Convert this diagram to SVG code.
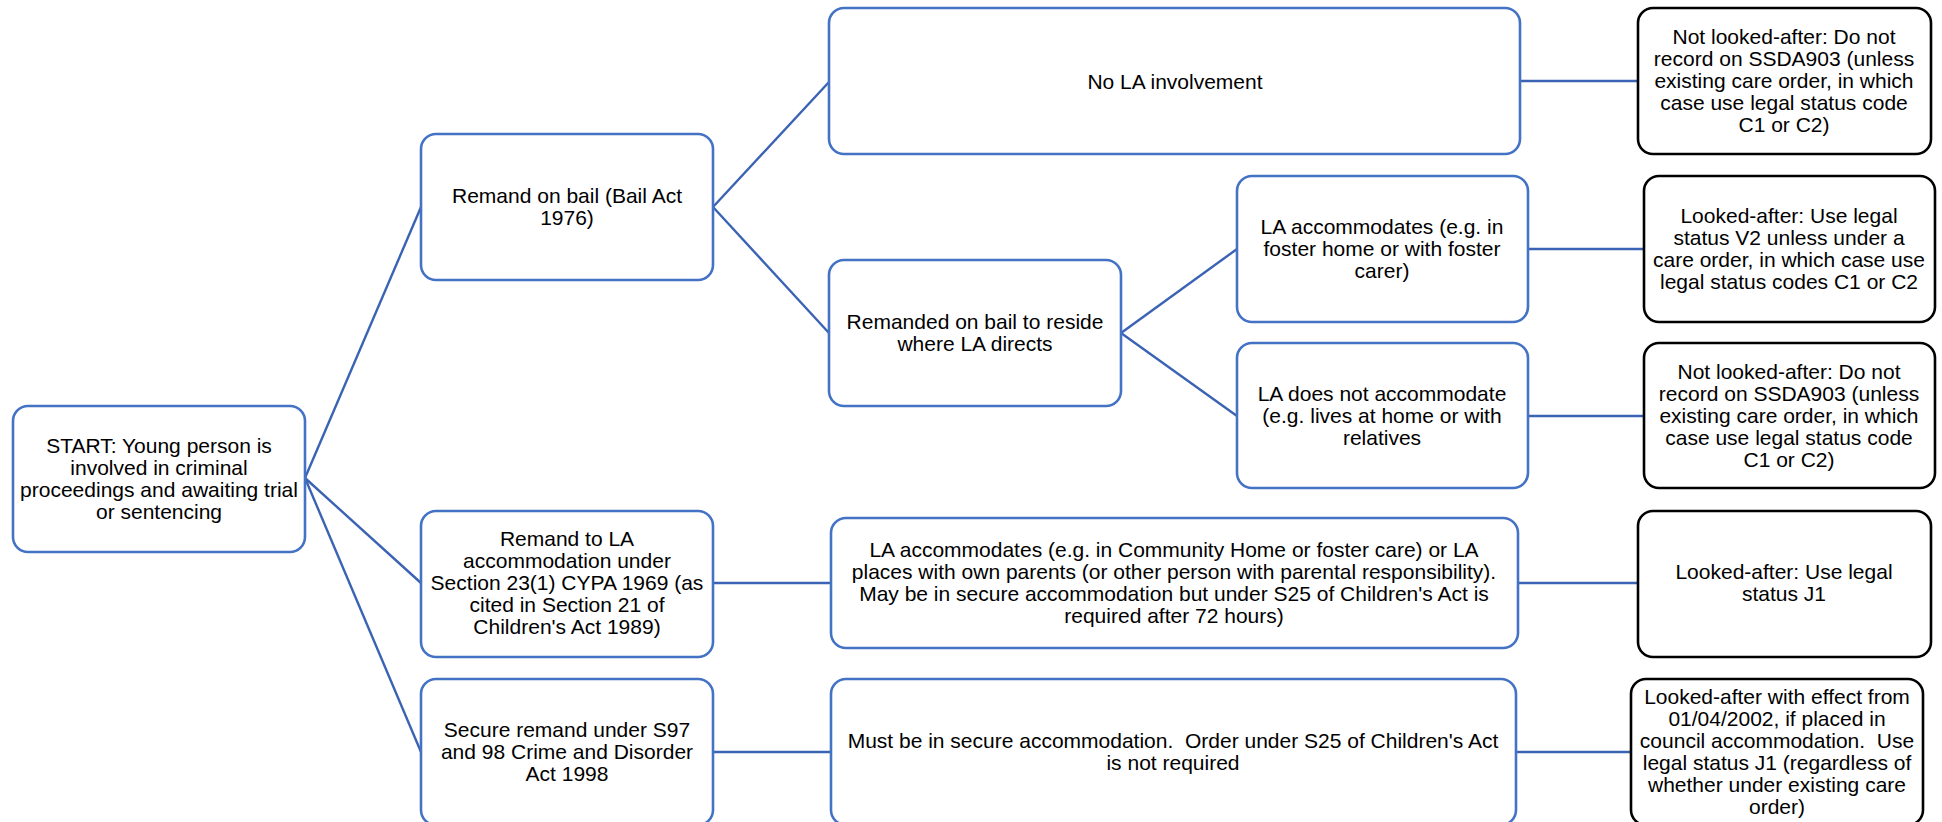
<svg xmlns="http://www.w3.org/2000/svg" width="1942" height="822" viewBox="0 0 1942 822">
<style>
.b{fill:#fff;stroke:#4472C4;stroke-width:2.6}
.k{fill:#fff;stroke:#000;stroke-width:2.6}
.c{fill:none;stroke:#3B63B3;stroke-width:2.4}
text{font-family:"Liberation Sans",Arial,sans-serif;font-size:21px;fill:#000;text-anchor:middle;white-space:pre}
</style>
<rect width="1942" height="822" fill="#fff"/>
<g id="connectors">
<line class="c" x1="305" y1="478" x2="421" y2="207"/>
<line class="c" x1="305" y1="478" x2="421" y2="583"/>
<line class="c" x1="305" y1="478" x2="421" y2="752"/>
<line class="c" x1="713" y1="207" x2="829" y2="82"/>
<line class="c" x1="713" y1="207" x2="829" y2="333"/>
<line class="c" x1="1121" y1="333" x2="1237" y2="249"/>
<line class="c" x1="1121" y1="333" x2="1237" y2="416"/>
<line class="c" x1="1520" y1="81" x2="1638" y2="81"/>
<line class="c" x1="1528" y1="249" x2="1644" y2="249"/>
<line class="c" x1="1528" y1="416" x2="1644" y2="416"/>
<line class="c" x1="713" y1="583" x2="831" y2="583"/>
<line class="c" x1="1518" y1="583" x2="1638" y2="583"/>
<line class="c" x1="713" y1="752" x2="831" y2="752"/>
<line class="c" x1="1516" y1="752" x2="1631" y2="752"/>
</g>
<g id="start">
<rect class="b" x="13" y="406" width="292" height="146" rx="15"/>
<text x="159" y="453">START: Young person is</text>
<text x="159" y="475">involved in criminal</text>
<text x="159" y="497">proceedings and awaiting trial</text>
<text x="159" y="519">or sentencing</text>
</g>
<g id="remand-bail">
<rect class="b" x="421" y="134" width="292" height="146" rx="15"/>
<text x="567" y="203">Remand on bail (Bail Act</text>
<text x="567" y="225">1976)</text>
</g>
<g id="remand-la">
<rect class="b" x="421" y="511" width="292" height="146" rx="15"/>
<text x="567" y="546">Remand to LA</text>
<text x="567" y="568">accommodation under</text>
<text x="567" y="590">Section 23(1) CYPA 1969 (as</text>
<text x="567" y="612">cited in Section 21 of</text>
<text x="567" y="634">Children's Act 1989)</text>
</g>
<g id="secure-remand">
<rect class="b" x="421" y="679" width="292" height="146" rx="15"/>
<text x="567" y="737">Secure remand under S97</text>
<text x="567" y="759">and 98 Crime and Disorder</text>
<text x="567" y="781">Act 1998</text>
</g>
<g id="no-la">
<rect class="b" x="829" y="8" width="691" height="146" rx="15"/>
<text x="1175" y="89">No LA involvement</text>
</g>
<g id="remanded-reside">
<rect class="b" x="829" y="260" width="292" height="146" rx="15"/>
<text x="975" y="329">Remanded on bail to reside</text>
<text x="975" y="351">where LA directs</text>
</g>
<g id="la-foster">
<rect class="b" x="1237" y="176" width="291" height="146" rx="15"/>
<text x="1382" y="234">LA accommodates (e.g. in</text>
<text x="1382" y="256">foster home or with foster</text>
<text x="1382" y="278">carer)</text>
</g>
<g id="la-not">
<rect class="b" x="1237" y="343" width="291" height="145" rx="15"/>
<text x="1382" y="401">LA does not accommodate</text>
<text x="1382" y="423">(e.g. lives at home or with</text>
<text x="1382" y="445">relatives</text>
</g>
<g id="la-community">
<rect class="b" x="831" y="518" width="687" height="130" rx="15"/>
<text x="1174" y="557">LA accommodates (e.g. in Community Home or foster care) or LA</text>
<text x="1174" y="579">places with own parents (or other person with parental responsibility).</text>
<text x="1174" y="601">May be in secure accommodation but under S25 of Children's Act is</text>
<text x="1174" y="623">required after 72 hours)</text>
</g>
<g id="must-secure">
<rect class="b" x="831" y="679" width="685" height="146" rx="15"/>
<text x="1173" y="748">Must be in secure accommodation.  Order under S25 of Children's Act</text>
<text x="1173" y="770">is not required</text>
</g>
<g id="not-la-1">
<rect class="k" x="1638" y="8" width="293" height="146" rx="15"/>
<text x="1784" y="44">Not looked-after: Do not</text>
<text x="1784" y="66">record on SSDA903 (unless</text>
<text x="1784" y="88">existing care order, in which</text>
<text x="1784" y="110">case use legal status code</text>
<text x="1784" y="132">C1 or C2)</text>
</g>
<g id="la-v2">
<rect class="k" x="1644" y="176" width="291" height="146" rx="15"/>
<text x="1789" y="223">Looked-after: Use legal</text>
<text x="1789" y="245">status V2 unless under a</text>
<text x="1789" y="267">care order, in which case use</text>
<text x="1789" y="289">legal status codes C1 or C2</text>
</g>
<g id="not-la-2">
<rect class="k" x="1644" y="343" width="291" height="145" rx="15"/>
<text x="1789" y="379">Not looked-after: Do not</text>
<text x="1789" y="401">record on SSDA903 (unless</text>
<text x="1789" y="423">existing care order, in which</text>
<text x="1789" y="445">case use legal status code</text>
<text x="1789" y="467">C1 or C2)</text>
</g>
<g id="la-j1">
<rect class="k" x="1638" y="511" width="293" height="146" rx="15"/>
<text x="1784" y="579">Looked-after: Use legal</text>
<text x="1784" y="601">status J1</text>
</g>
<g id="la-effect">
<rect class="k" x="1631" y="679" width="292" height="146" rx="15"/>
<text x="1777" y="704">Looked-after with effect from</text>
<text x="1777" y="726">01/04/2002, if placed in</text>
<text x="1777" y="748">council accommodation.  Use</text>
<text x="1777" y="770">legal status J1 (regardless of</text>
<text x="1777" y="792">whether under existing care</text>
<text x="1777" y="814">order)</text>
</g>
</svg>
